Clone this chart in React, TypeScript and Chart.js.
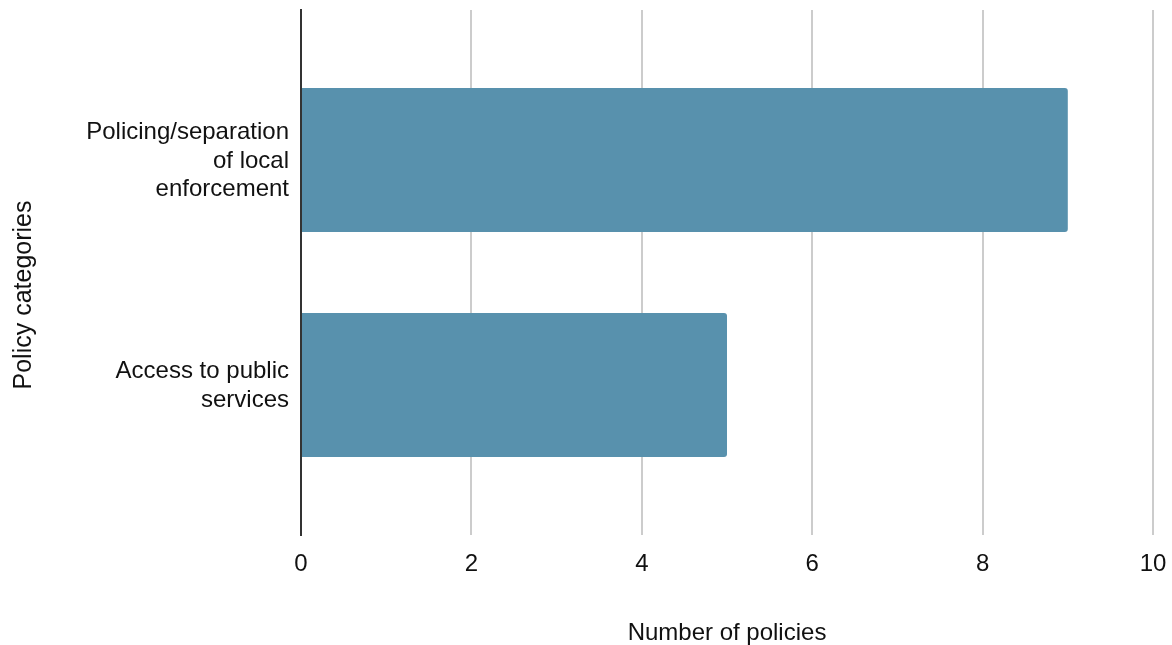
import React, { useEffect, useRef } from "react";
import { Chart, registerables } from "chart.js";

Chart.register(...registerables);

const categories: string[][] = [
  ["Policing/separation", "of local", "enforcement"],
  ["Access to public", "services"],
];
const policyCounts: number[] = [9, 5];
const xTicks: number[] = [0, 2, 4, 6, 8, 10];
const xTitle = "Number of policies";
const yTitle = "Policy categories";

const FONT = "Arial, 'Liberation Sans', sans-serif";
const TEXT = "#111111";

const yTitlePlugin = {
  id: "yTitlePlugin",
  afterDraw(chart: any) {
    const ctx = chart.ctx as CanvasRenderingContext2D;
    const area = chart.chartArea;
    ctx.save();
    ctx.font = `25px ${FONT}`;
    ctx.fillStyle = TEXT;
    ctx.textAlign = "center";
    ctx.textBaseline = "middle";
    ctx.translate(24, (area.top + area.bottom) / 2 + 22.5);
    ctx.rotate(-Math.PI / 2);
    ctx.fillText(yTitle, 0, 0);
    ctx.restore();
  },
};

export default function App() {
  const ref = useRef<HTMLCanvasElement | null>(null);

  useEffect(() => {
    if (!ref.current) return;
    const chart = new Chart(ref.current, {
      type: "bar",
      data: {
        datasets: [
          {
            data: policyCounts.map((v, i) => ({ x: v, y: i })),
            backgroundColor: "#5891AD",
            borderRadius: 3,
            borderSkipped: "start",
            barPercentage: 0.8,
            categoryPercentage: 0.8,
          },
        ],
      },
      options: {
        indexAxis: "y",
        animation: false,
        responsive: false,
        layout: { padding: { top: 10, right: 19, left: 0, bottom: 0 } },
        plugins: {
          legend: { display: false },
          tooltip: { enabled: false },
        },
        scales: {
          x: {
            type: "linear",
            min: xTicks[0],
            max: xTicks[xTicks.length - 1],
            afterBuildTicks: (scale: any) => {
              scale.ticks = xTicks.map((v) => ({ value: v }));
            },
            afterFit: (scale: any) => {
              scale.height = 110;
              scale.paddingLeft = 0;
              scale.paddingRight = 0;
            },
            grid: {
              color: (c: any) => (c.tick && c.tick.value === 0 ? "rgba(0,0,0,0)" : "#cccccc"),
              lineWidth: 2,
              drawTicks: false,
            },
            border: { display: false },
            ticks: {
              padding: 15,
              color: TEXT,
              font: { family: FONT, size: 24 },
            },
            title: {
              display: true,
              text: xTitle,
              color: TEXT,
              font: { family: FONT, size: 24 },
              padding: { top: 0, bottom: -3 },
            },
          },
          y: {
            type: "linear",
            reverse: true,
            offset: false,
            min: -2 / 3,
            max: categories.length - 1 + 2 / 3,
            z: 1,
            afterBuildTicks: (scale: any) => {
              scale.ticks = categories.map((_, i) => ({ value: i }));
            },
            afterFit: (scale: any) => {
              scale.width = 301;
              scale.paddingTop = 0;
              scale.paddingBottom = 0;
            },
            grid: { display: false, drawTicks: false, offset: false },
            border: { display: true, color: "#333333", width: 2 },
            ticks: {
              padding: 12,
              labelOffset: 1,
              color: TEXT,
              font: { family: FONT, size: 24, lineHeight: 1.2 },
              callback: (v: any) => categories[Math.round(Number(v))] ?? "",
            },
          },
        },
      },
      plugins: [yTitlePlugin],
    } as any);
    return () => chart.destroy();
  }, []);

  return (
    <div style={{ position: "fixed", left: 0, top: 0, width: 1172, height: 645, background: "#fff" }}>
      <canvas ref={ref} width={1172} height={645} />
    </div>
  );
}
